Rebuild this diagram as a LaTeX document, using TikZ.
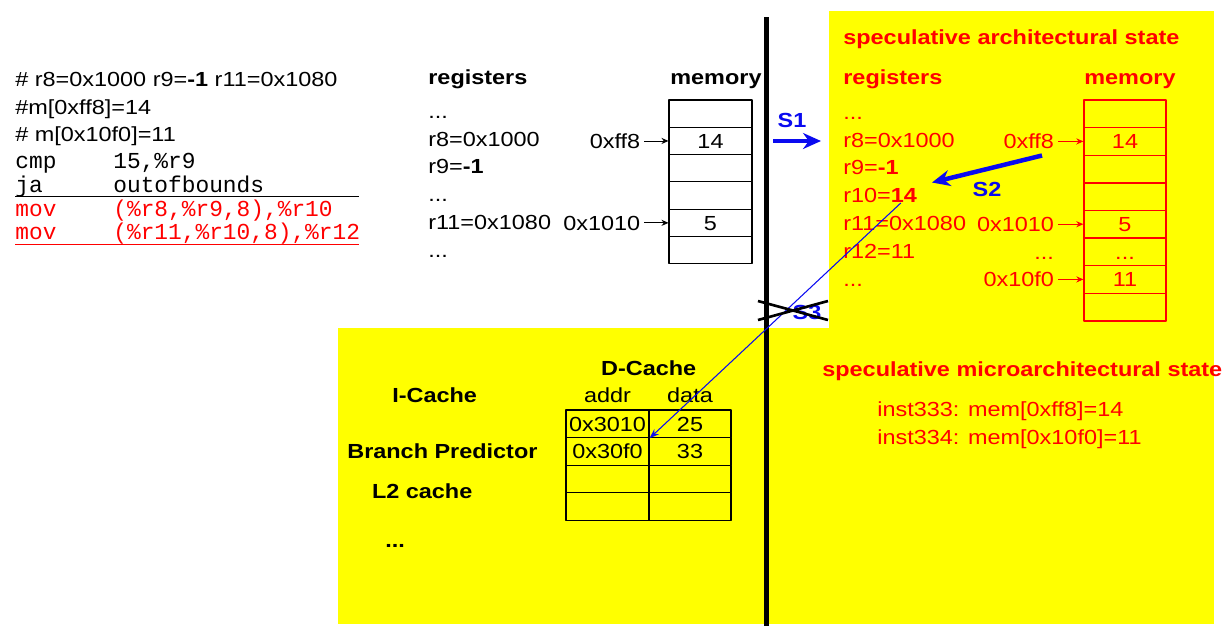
\documentclass[tikz,border=0pt]{standalone}
\usepackage{fontspec}
\setmainfont[FakeStretch=1.15]{Liberation Sans}
\setmonofont{Liberation Mono}
\usetikzlibrary{arrows.meta,positioning}
\definecolor{sblue}{RGB}{10,10,240}
\definecolor{specyellow}{RGB}{255,255,0}

\begin{document}
\begin{tikzpicture}[x=0.02cm,y=-0.02cm,>=stealth,line join=round,
    every node/.style={inner sep=0pt,text height=8.2pt,text depth=0pt,
      font=\fontsize{11.6}{13}\selectfont},
    txt/.style={anchor=west},
    bf/.style={font=\fontsize{11.6}{13}\selectfont\bfseries},
    spec/.style={text=red},
    code/.style={anchor=west,font=\ttfamily\fontsize{13}{15}\selectfont},
    cell/.style={draw,line width=0.6pt,minimum width=1.66cm,minimum height=0.546cm},
    scell/.style={draw=red,text=red,line width=0.8pt,minimum width=1.64cm,minimum height=0.552cm},
    dcell/.style={draw,line width=0.7pt,minimum height=0.552cm},
    ptr/.style={-{Stealth[length=4pt,width=3.5pt]},shorten <=0.08cm,line width=0.5pt},
    big/.style={-{Stealth[length=0.36cm,width=0.32cm]},line width=0.09cm,draw=sblue},
  ]
  \def\ddd{...}
  \useasboundingbox (0,0) rectangle (1230,626);
  % yellow = speculative state
  \fill[specyellow] (829,11) rectangle (1214,624);
  \fill[specyellow] (338,328) rectangle (829,624);
  \draw[line width=0.1cm] (766,17) -- (766,626);

  % code
  \node[txt] (c1) at (15,79) {\# r8=0x1000 r9=\textbf{-1} r11=0x1080};
  \node[txt] (c2) at (15,107) {\#m[0xff8]=14};
  \node[txt] (c3) at (15,134) {\# m[0x10f0]=11};
  \node[code] (op1) at (15,161) {cmp};
  \node[code] (op2) at (15,185) {ja};
  \node[code,text=red] (op3) at (15,209) {mov};
  \node[code,text=red] (op4) at (15,232.5) {mov};
  \node[code] (arg1) at (113,161) {15,\%r9};
  \node[code] (arg2) at (113,185) {outofbounds};
  \node[code,text=red] (arg3) at (113,209) {(\%r8,\%r9,8),\%r10};
  \node[code,text=red] (arg4) at (113,232.5) {(\%r11,\%r10,8),\%r12};
  \draw[line width=0.7pt] (15,196.5) -- (359,196.5);
  \draw[red,line width=1.1pt] (15,244.5) -- (359,244.5);

  % architectural state
  \node[txt,bf] (regs) at (428,77) {registers};
  \node[txt,bf] (mems) at (670,77) {memory};
  \foreach \t [count=\i] in {\ddd,r8=0x1000,r9=\textbf{-1},\ddd,r11=0x1080,\ddd}
    \node[txt] (reg\i) at (428,{111.3+27.7*(\i-1)}) {\t};
  \foreach \v [count=\i] in {{},14,{},{},5,{}}
    \node[cell] (mem\i) at (710.5,{100+27.3*(\i-0.5)}) {\v};
  \node[left=0.56cm of mem2] (adr1) {0xff8};
  \node[left=0.56cm of mem5] (adr2) {0x1010};
  \draw[ptr] (adr1) -- (mem2);
  \draw[ptr] (adr2) -- (mem5);

  % speculative architectural state
  \node[txt,bf,spec] (arch) at (843,37) {speculative architectural state};
  \node[txt,bf,spec] (sregs) at (843,77) {registers};
  \node[txt,bf,spec] (smems) at (1084,77) {memory};
  \foreach \t [count=\i] in {\ddd,r8=0x1000,r9=\textbf{-1},r10=\textbf{14},r11=0x1080,r12=11,\ddd}
    \node[txt,spec] (sreg\i) at (843,{112+27.8*(\i-1)}) {\t};
  \foreach \v [count=\i] in {{},14,{},{},5,\ddd,11,{}}
    \node[scell] (smem\i) at (1125,{100+27.6*(\i-0.5)}) {\v};
  \node[spec,left=0.58cm of smem2] (sadr1) {0xff8};
  \node[spec,left=0.58cm of smem5] (sadr2) {0x1010};
  \node[spec,left=0.58cm of smem6] (sadr3) {\ddd};
  \node[spec,left=0.58cm of smem7] (sadr4) {0x10f0};
  \draw[ptr,red] (sadr1) -- (smem2);
  \draw[ptr,red] (sadr2) -- (smem5);
  \draw[ptr,red] (sadr4) -- (smem7);

  % caches
  \foreach \a/\d [count=\i] in {0x3010/25,0x30f0/33,{}/{},{}/{}} {
    \node[dcell,minimum width=1.66cm] (dca\i) at (607.5,{410+27.6*(\i-0.5)}) {\a};
    \node[dcell,minimum width=1.64cm] (dcd\i) at (690,{410+27.6*(\i-0.5)}) {\d};
  }
  \node[bf] (dcache) at (648.7,368) {D-Cache};
  \node[above=0.14cm of dca1] (colA) {addr};
  \node[above=0.14cm of dcd1] (colD) {data};
  \node[bf] (icache) at (434.7,395) {I-Cache};
  \node[txt,bf] (bpred) at (347,451) {Branch Predictor};
  \node[txt,bf] (ltwo) at (371.7,491.7) {L2 cache};
  \node[txt,bf] (more) at (385,540) {\ddd};

  % speculative microarchitectural state
  \node[txt,bf,spec] (micro) at (822,369) {speculative microarchitectural state};
  \node[txt,spec] (inst1) at (877,409) {inst333: mem[0xff8]=14};
  \node[txt,spec] (inst2) at (877,437.5) {inst334: mem[0x10f0]=11};

  % steps
  \coordinate (s1a) at (773,141);
  \coordinate (s1b) at (821,141);
  \draw[big] (s1a) -- (s1b);
  \node[bf,text=sblue] (s1) at (792,120) {S1};
  \coordinate (s2a) at (1042,155.5);
  \coordinate (s2b) at (932,182.5);
  \draw[big] (s2a) -- (s2b);
  \node[bf,text=sblue] (s2) at (987,189) {S2};
  \node[bf,text=sblue] (s3) at (807,312) {S3};
  \coordinate (s3a) at ([xshift=-0.33cm]sreg4.south east);
  \draw[sblue,line width=0.6pt,-{Stealth[length=5.5pt,width=4pt]}] (s3a) -- (dca1.south east);
  \draw[line width=1.5pt] (758,301) -- (828,320) (758,320) -- (828,301);
\end{tikzpicture}
\end{document}
